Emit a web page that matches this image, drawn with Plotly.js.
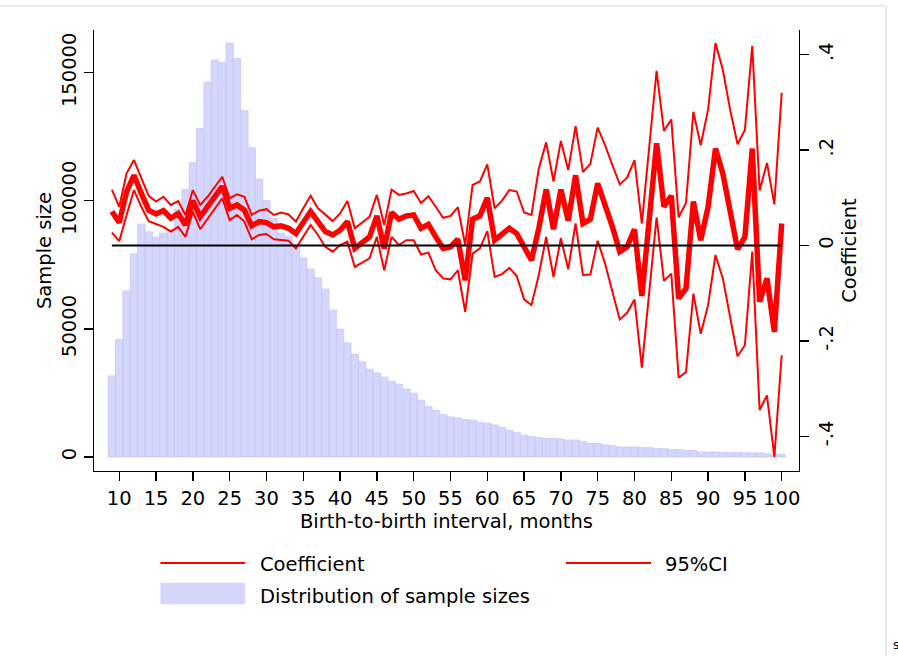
<!DOCTYPE html>
<html>
<head>
<meta charset="utf-8">
<script src="https://cdn.plot.ly/plotly-3.0.1.min.js"></script>
<style>html,body{margin:0;padding:0;background:#fff;}#chart{width:898px;height:656px;}</style>
</head>
<body>
<div id="chart"></div>
<script>
// ---------------- data ----------------
const months = [9,10,11,12,13,14,15,16,17,18,19,20,21,22,23,24,25,26,27,28,29,30,31,32,33,34,35,36,37,38,39,40,
  41,42,43,44,45,46,47,48,49,50,51,52,53,54,55,56,57,58,59,60,61,62,63,64,65,66,67,68,69,70,
  71,72,73,74,75,76,77,78,79,80,81,82,83,84,85,86,87,88,89,90,91,92,93,94,95,96,97,98,99,100];

const sampleSizes = [31640,45850,64840,79300,90900,87900,85820,87380,88820,96760,104450,114840,128280,146250,154960,153900,161480,155470,135160,120700,108480,100150,93130,87380,85940,82700,77730,73320,69920,65510,57300,49880,
  44530,40120,37110,34260,32810,31130,29570,28400,26560,24880,22150,19690,18240,16560,15630,15230,14610,14340,13550,13160,12500,11600,10430,9650,8480,7970,7580,7300,7300,7030,
  6650,6600,6000,5230,5230,4690,4430,3900,3900,3900,3650,3650,3260,3260,2870,2870,2600,2600,1950,1950,1950,1700,1700,1700,1600,1600,1600,1300,1050,1050];

const coefficient = [0.071,0.048,0.113,0.147,0.109,0.074,0.066,0.073,0.057,0.067,0.043,0.094,0.060,0.080,0.101,0.124,0.078,0.085,0.074,0.041,0.050,0.048,0.039,0.041,0.036,0.025,0.048,0.071,0.050,0.029,0.022,0.032,
  0.050,-0.006,0.006,0.018,0.062,-0.006,0.069,0.055,0.062,0.064,0.036,0.044,0.018,-0.006,-0.003,0.013,-0.073,0.055,0.062,0.100,0.011,0.022,0.036,0.025,-0.006,-0.031,0.036,0.117,0.034,0.117,
  0.052,0.147,0.046,0.055,0.130,0.088,0.039,-0.013,-0.003,0.034,-0.106,0.054,0.214,0.081,0.104,-0.111,-0.090,0.092,0.011,0.081,0.203,0.151,0.074,-0.008,0.018,0.203,-0.118,-0.069,-0.181,0.046];

const ciLower = [0.027,0.009,0.064,0.116,0.081,0.051,0.045,0.039,0.029,0.039,0.018,0.071,0.034,0.055,0.076,0.099,0.053,0.064,0.050,0.013,0.022,0.024,0.013,0.011,0.010,-0.006,0.018,0.043,0.022,-0.003,-0.013,0.001,
  0.008,-0.045,-0.036,-0.027,0.018,-0.052,0.018,0.001,0.011,0.011,-0.019,-0.015,-0.052,-0.069,-0.071,-0.052,-0.139,-0.017,-0.006,0.030,-0.066,-0.060,-0.047,-0.064,-0.113,-0.125,-0.062,0.018,-0.066,0.015,
  -0.050,0.046,-0.062,-0.061,0.010,-0.038,-0.097,-0.155,-0.141,-0.113,-0.256,-0.099,0.059,-0.074,-0.059,-0.277,-0.265,-0.101,-0.185,-0.125,-0.020,-0.069,-0.150,-0.232,-0.209,-0.013,-0.345,-0.314,-0.443,-0.230];

const ciUpper = [0.117,0.081,0.151,0.179,0.141,0.104,0.092,0.102,0.085,0.093,0.064,0.116,0.085,0.102,0.123,0.144,0.099,0.107,0.102,0.064,0.073,0.076,0.064,0.069,0.065,0.050,0.078,0.104,0.078,0.064,0.051,0.067,
  0.093,0.036,0.048,0.060,0.106,0.043,0.117,0.106,0.109,0.114,0.089,0.103,0.081,0.058,0.062,0.080,0.001,0.127,0.134,0.170,0.078,0.094,0.116,0.113,0.069,0.064,0.161,0.216,0.134,0.219,
  0.158,0.250,0.154,0.171,0.247,0.210,0.168,0.128,0.142,0.179,0.046,0.206,0.366,0.240,0.264,0.059,0.089,0.280,0.210,0.285,0.424,0.368,0.284,0.212,0.242,0.418,0.115,0.173,0.086,0.320];

const xTicks = [10,15,20,25,30,35,40,45,50,55,60,65,70,75,80,85,90,95,100];
const leftTickVals = [0,50000,100000,150000];
const leftTickText = ['0','50000','100000','150000'];
const rightTickVals = [-0.4,-0.2,0,0.2,0.4];
const rightTickText = ['-.4','-.2','0','.2','.4'];

const labels = {
  coef: 'Coefficient', ci: '95%CI', dist: 'Distribution of sample sizes',
  xTitle: 'Birth-to-birth interval, months', yTitle: 'Sample size', y2Title: 'Coefficient'
};

// ---------------- style ----------------
const W = 898, H = 656;
const M = {l:94, r:99, t:30, b:185};
const pw = W - M.l - M.r, ph = H - M.t - M.b;
const px = v => (v - M.l) / pw;
const py = v => (H - M.b - v) / ph;
const FONT = 'DejaVu Sans, Liberation Sans, Arial, sans-serif';
const FS = 19.5;
const RED = 'rgb(255,0,0)';
const BAR = 'rgb(213,214,252)';
const BAREDGE = 'rgb(199,200,246)';

const traces = [
  {type:'bar', x: months, y: sampleSizes, name: labels.dist, yaxis:'y',
   marker:{color: BAR, line:{color: BAREDGE, width: 0.8}}, hoverinfo:'x+y'},
  {type:'scatter', mode:'lines', x: months, y: ciUpper, name: labels.ci, yaxis:'y2',
   line:{color: RED, width: 2}},
  {type:'scatter', mode:'lines', x: months, y: ciLower, name: labels.ci, yaxis:'y2',
   line:{color: RED, width: 2}},
  {type:'scatter', mode:'lines', x: months, y: coefficient, name: labels.coef, yaxis:'y2',
   line:{color: RED, width: 5.5}}
];

const axisCommon = {
  showline: true, linecolor: '#000', linewidth: 1.3, mirror: false,
  ticks: 'outside', ticklen: 9, tickwidth: 1.3, tickcolor: '#000',
  showgrid: false, zeroline: false, automargin: false,
  tickfont: {family: FONT, size: FS, color: '#000'}
};

const layout = {
  width: W, height: H,
  margin: M,
  paper_bgcolor: '#fff', plot_bgcolor: '#fff',
  showlegend: false,
  bargap: 0,
  font: {family: FONT, size: FS, color: '#000'},
  xaxis: Object.assign({}, axisCommon, {
    range: [6.57, 102.35], tickmode: 'array', tickvals: xTicks,
    title: {text: labels.xTitle, font: {family: FONT, size: FS}, standoff: 1}
  }),
  yaxis: Object.assign({}, axisCommon, {
    range: [-5469, 166680], tickmode: 'array', tickvals: leftTickVals, ticktext: leftTickText,
    tickangle: -90,
    title: {text: labels.yTitle, font: {family: FONT, size: FS}, standoff: 1}
  }),
  yaxis2: Object.assign({}, axisCommon, {
    overlaying: 'y', side: 'right',
    range: [-0.4725, 0.4514], tickmode: 'array', tickvals: rightTickVals, ticktext: rightTickText,
    tickangle: -90,
    title: {text: labels.y2Title, font: {family: FONT, size: FS}, standoff: 0}
  }),
  shapes: [
    // zero reference line
    {type:'line', xref:'x', yref:'y2', x0: months[0], x1: months[months.length-1], y0: 0, y1: 0,
     line:{color:'#000', width: 2}, layer:'above'},
    // legend keys
    {type:'line', xref:'paper', yref:'paper', x0: px(160.4), x1: px(245.2), y0: py(563), y1: py(563),
     line:{color: RED, width: 2}},
    {type:'line', xref:'paper', yref:'paper', x0: px(566), x1: px(651), y0: py(563), y1: py(563),
     line:{color: RED, width: 2}},
    {type:'rect', xref:'paper', yref:'paper', x0: px(160.4), x1: px(245.2), y0: py(604.3), y1: py(582.7),
     fillcolor: BAR, line:{width: 0}},
    // outer faint frame
    {type:'line', xref:'paper', yref:'paper', x0: px(0), x1: px(886), y0: py(6), y1: py(6),
     line:{color:'#e4eaee', width: 2}},
    {type:'line', xref:'paper', yref:'paper', x0: px(886), x1: px(886), y0: py(6), y1: py(656),
     line:{color:'#e4eaee', width: 2}}
  ],
  annotations: [
    {xref:'paper', yref:'paper', x: px(258.4), y: py(564), xanchor:'left', yanchor:'middle',
     text: labels.coef, showarrow:false, font:{family: FONT, size: FS, color:'#000'}},
    {xref:'paper', yref:'paper', x: px(663), y: py(564), xanchor:'left', yanchor:'middle',
     text: labels.ci, showarrow:false, font:{family: FONT, size: FS, color:'#000'}},
    {xref:'paper', yref:'paper', x: px(258.4), y: py(596), xanchor:'left', yanchor:'middle',
     text: labels.dist, showarrow:false, font:{family: FONT, size: FS, color:'#000'}},
    {xref:'paper', yref:'paper', x: px(891), y: py(645), xanchor:'left', yanchor:'middle',
     text: 's', showarrow:false, font:{family: FONT, size: 12, color:'#000'}}
  ]
};

Plotly.newPlot('chart', traces, layout, {staticPlot: true, displayModeBar: false});
</script>
</body>
</html>
